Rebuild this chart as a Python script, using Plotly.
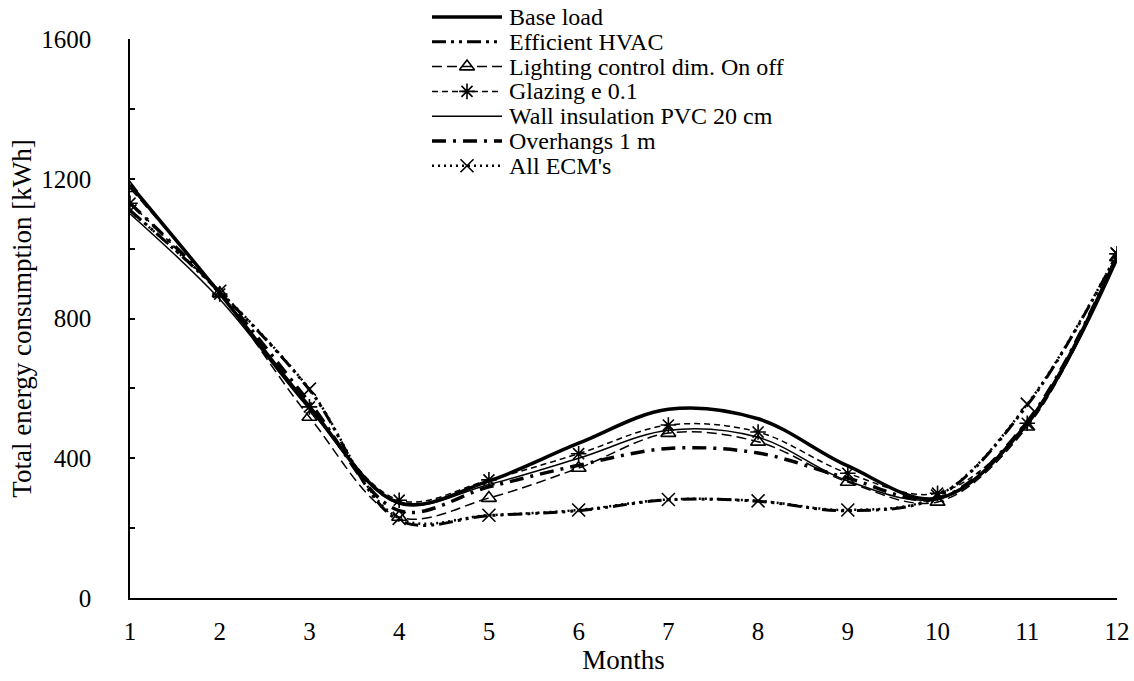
import plotly.graph_objects as go

# ---------------- data ----------------
months = [1, 2, 3, 4, 5, 6, 7, 8, 9, 10, 11, 12]
base_load = [1183, 872, 548, 272, 335, 443, 540, 513, 378, 285, 500, 978]
efficient_hvac = [1110, 876, 596, 222, 236, 250, 281, 277, 250, 290, 552, 983]
lighting_control = [1173, 872, 518, 232, 286, 372, 472, 447, 332, 275, 490, 975]
glazing = [1130, 870, 547, 280, 338, 413, 495, 475, 357, 300, 500, 985]
wall_insulation = [1100, 855, 540, 270, 325, 400, 480, 460, 335, 285, 495, 965]
overhangs = [1130, 875, 560, 250, 318, 380, 428, 415, 343, 285, 505, 980]
all_ecms = [1108, 878, 598, 228, 237, 252, 282, 278, 252, 292, 555, 985]

names = ["Base load", "Efficient HVAC", "Lighting control dim. On off",
         "Glazing e 0.1", "Wall insulation PVC 20 cm", "Overhangs 1 m", "All ECM's"]
y_ticks = [0, 400, 800, 1200, 1600]

# ---------------- styles ----------------
FONT = '"Liberation Serif", "Times New Roman", Tinos, "DejaVu Serif", Times, serif'
styles = [
    dict(width=3.5, dash="solid", marker=None),
    dict(width=3, dash="14px,5px,3px,5px,3px,5px", marker=None),
    dict(width=1.5, dash="10px,5px", marker="triangle-up-open"),
    dict(width=1.5, dash="6px,4px", marker="asterisk-open"),
    dict(width=1.5, dash="solid", marker=None),
    dict(width=3.5, dash="14px,7px,3px,7px", marker=None),
    dict(width=2.5, dash="2px,4px", marker="x-thin-open"),
]
series = [base_load, efficient_hvac, lighting_control, glazing,
          wall_insulation, overhangs, all_ecms]

fig = go.Figure()

for name, vals, st in zip(names, series, styles):
    mode = "lines+markers" if st["marker"] else "lines"
    fig.add_trace(go.Scatter(
        x=months, y=vals, name=name, mode=mode,
        line=dict(color="black", width=st["width"], dash=st["dash"],
                  shape="spline", smoothing=1.0),
        marker=dict(symbol=st["marker"] or "circle", size=13, color="black",
                    line=dict(color="black", width=1.6)),
        showlegend=False, xaxis="x", yaxis="y",
    ))

# ---------------- custom legend (separate full-size axes in pixel units) ----------------
leg_x0, leg_x1, leg_text_x = 432, 502, 507
leg_row_top, leg_row_gap = 17, 24.8
for i, (name, st) in enumerate(zip(names, styles)):
    ry = leg_row_top + i * leg_row_gap
    fig.add_trace(go.Scatter(
        x=[leg_x0, leg_x1], y=[ry, ry], mode="lines",
        line=dict(color="black", width=st["width"], dash=st["dash"]),
        showlegend=False, hoverinfo="skip", xaxis="x2", yaxis="y2",
    ))
    if st["marker"]:
        fig.add_trace(go.Scatter(
            x=[(leg_x0 + leg_x1) / 2], y=[ry], mode="markers",
            marker=dict(symbol=st["marker"], size=13, color="black",
                        line=dict(color="black", width=1.6)),
            showlegend=False, hoverinfo="skip", xaxis="x2", yaxis="y2",
        ))
    fig.add_annotation(x=leg_text_x, y=ry, xref="x2", yref="y2", text=name,
                       showarrow=False, xanchor="left", yanchor="middle",
                       font=dict(family=FONT, size=24, color="black"))

W, H = 1134, 681
ML, MR, MT, MB = 130, 17, 0, 83
plot_h = H - MT - MB  # 598
top_px = 39

fig.update_layout(
    width=W, height=H,
    margin=dict(l=ML, r=MR, t=MT, b=MB, autoexpand=False),
    paper_bgcolor="white", plot_bgcolor="rgba(0,0,0,0)",
    font=dict(family=FONT, size=25, color="black"),
    showlegend=False,
    xaxis=dict(
        range=[1, 12], tickvals=months, ticktext=[str(m) for m in months],
        showgrid=False, zeroline=False, showline=True, linecolor="black", linewidth=2,
        ticks="", ticklabelstandoff=10, automargin=False,
        tickfont=dict(family=FONT, size=25),
        title=dict(text="Months", font=dict(family=FONT, size=27), standoff=2),
    ),
    yaxis=dict(
        domain=[0, (plot_h - top_px) / plot_h],
        range=[0, 1600], tickvals=y_ticks, ticktext=[str(v) for v in y_ticks],
        showgrid=False, zeroline=False, showline=True, linecolor="black", linewidth=1.5,
        ticks="inside", ticklen=5, tickwidth=1.5, tickcolor="black",
        minor=dict(dtick=200, ticks="inside", ticklen=5, tickwidth=1.5, tickcolor="black"),
        ticklabelstandoff=32, automargin=False,
        tickfont=dict(family=FONT, size=25),
        title=dict(text="Total energy consumption [kWh]", font=dict(family=FONT, size=27), standoff=2),
    ),
    xaxis2=dict(domain=[0, 1], range=[ML, W - MR], visible=False, fixedrange=True,
                anchor="y2"),
    yaxis2=dict(domain=[0, 1], range=[plot_h, 0], visible=False, fixedrange=True,
                anchor="x2"),
)

fig.write_html("out.html")
